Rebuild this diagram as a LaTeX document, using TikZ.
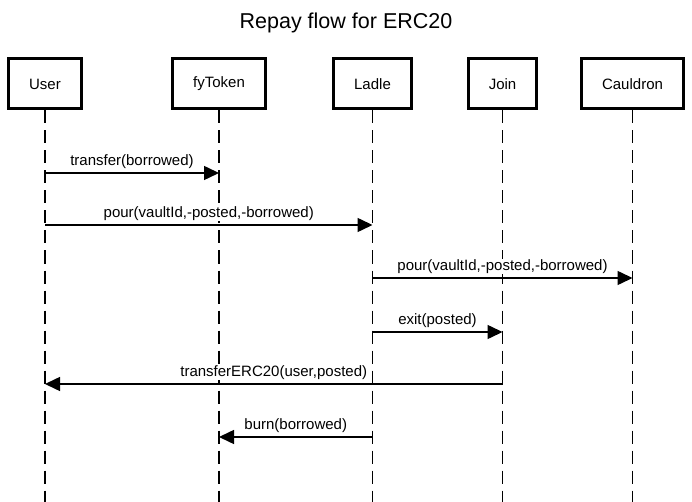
\documentclass[tikz,border=0pt]{standalone}
\usepackage{fontspec}
\setmainfont{Liberation Sans}
\usetikzlibrary{arrows.meta}
\begin{document}
\begin{tikzpicture}[x=1pt, y=-1pt,
	actor/.style={draw, line width=3pt, minimum height=50pt, inner xsep=20.5pt, font=\fontsize{15}{18}\selectfont},
	lifeline/.style={line width=1.3pt, dash pattern=on 13pt off 7pt},
	msg/.style={line width=1.5pt, -{Triangle[length=15pt,width=14pt]}},
	lbl/.style={above, fill=white, inner xsep=1pt, inner ysep=0.5pt, yshift=3pt, font=\fontsize{15}{18}\selectfont}]

\useasboundingbox (0,0) rectangle (692,502);

\node[anchor=base, font=\fontsize{21.5}{25}\selectfont] (title) at (346,29) {Repay flow for ERC20};

% Participantes
\node[actor] (User) at (45,84) {User};
\node[actor] (fyToken) at (219,84) {fyToken};
\node[actor] (Ladle) at (372.5,84) {Ladle};
\node[actor] (Join) at (502.5,84) {Join};
\node[actor] (Cauldron) at (632.5,84) {Cauldron};

% Lineas de vida
\foreach \n in {User, fyToken, Ladle, Join, Cauldron}
	\draw[lifeline] (\n.south) -- (\n.south |- 0,502);

% Mensajes
\draw[msg] (User |- 0,173) -- node[lbl] {transfer(borrowed)} (fyToken |- 0,173);
\draw[msg] (User |- 0,225) -- node[lbl] {pour(vaultId,-posted,-borrowed)} (Ladle |- 0,225);
\draw[msg] (Ladle |- 0,278) -- node[lbl] {pour(vaultId,-posted,-borrowed)} (Cauldron |- 0,278);
\draw[msg] (Ladle |- 0,332) -- node[lbl] {exit(posted)} (Join |- 0,332);
\draw[msg] (Join |- 0,384) -- node[lbl] {transferERC20(user,posted)} (User |- 0,384);
\draw[msg] (Ladle |- 0,437) -- node[lbl] {burn(borrowed)} (fyToken |- 0,437);
\end{tikzpicture}
\end{document}
